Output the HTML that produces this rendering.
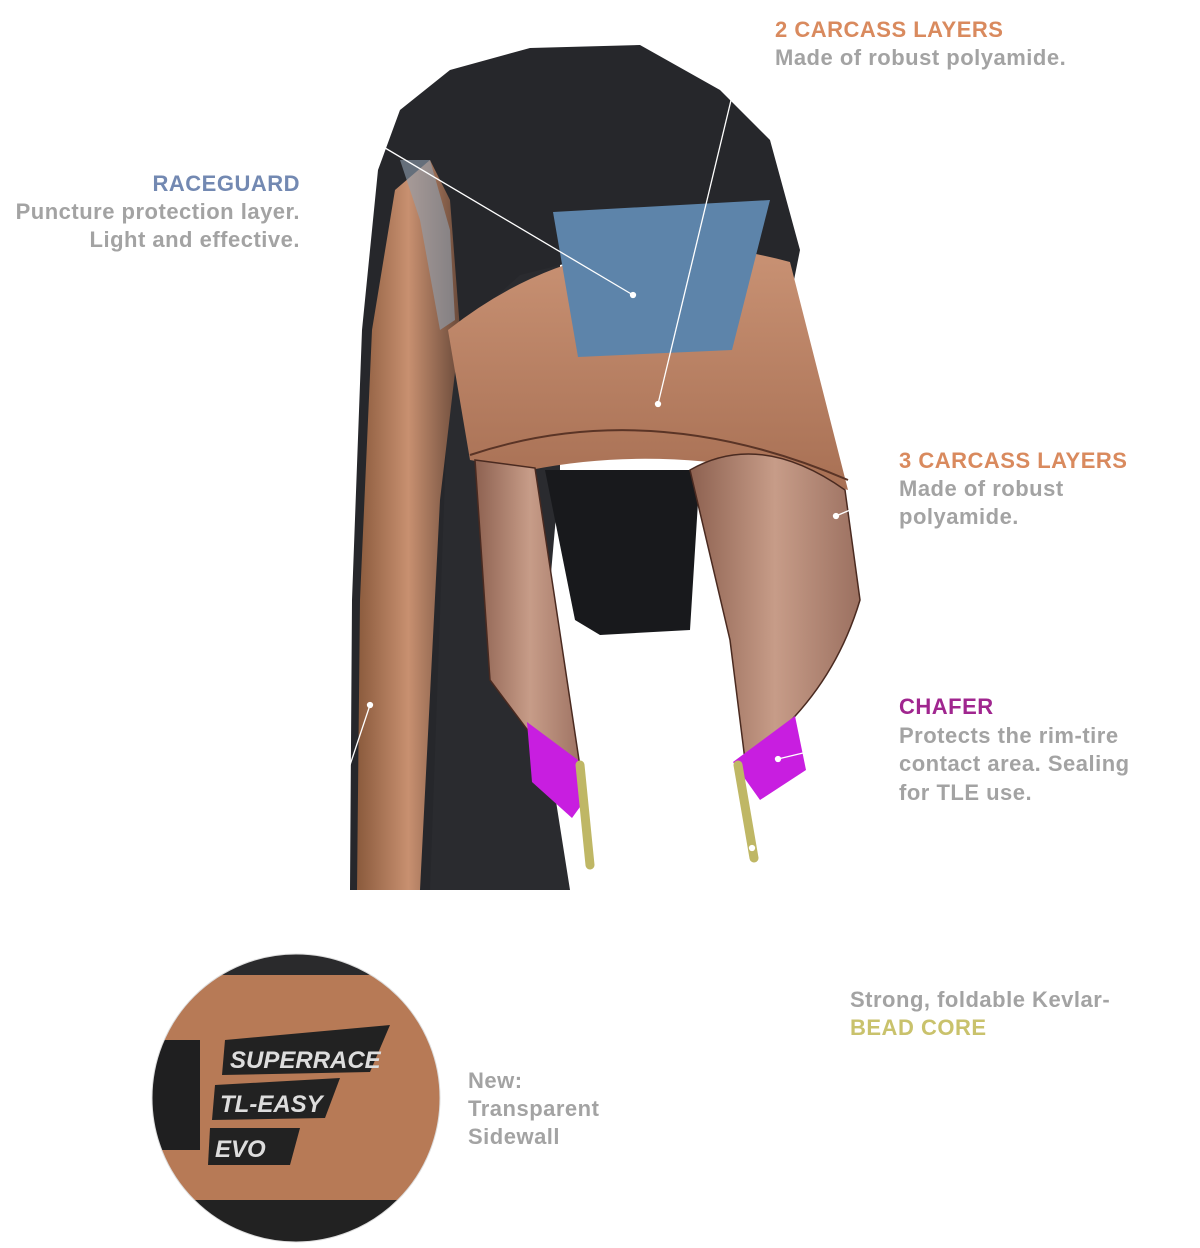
<!DOCTYPE html>
<html><head><meta charset="utf-8"><style>
body{margin:0;background:#fff;width:1200px;height:1248px;overflow:hidden;position:relative;font-family:"Liberation Sans",Arial,sans-serif;font-weight:bold}
.t{position:absolute;font-size:22px;letter-spacing:0.5px;line-height:28px;color:#a3a3a3;white-space:nowrap}
.o{color:#d98a5e}.b{color:#7389b2}.p{color:#a0268f}.y{color:#c9c26c}
svg{position:absolute;left:0;top:0}
</style></head><body>
<svg width="1200" height="1248" viewBox="0 0 1200 1248">
<defs>
<linearGradient id="sw" x1="0" x2="1"><stop offset="0" stop-color="#8a5a3c"/><stop offset="0.5" stop-color="#c89070"/><stop offset="1" stop-color="#6a4a3a"/></linearGradient>
<linearGradient id="cp" x1="0" x2="0" y1="0" y2="1"><stop offset="0" stop-color="#c99274"/><stop offset="1" stop-color="#a87054"/></linearGradient>
<linearGradient id="lg" x1="0" x2="1"><stop offset="0" stop-color="#8d6150"/><stop offset="0.5" stop-color="#c79c88"/><stop offset="1" stop-color="#9b7060"/></linearGradient>
</defs>
<!-- backing -->
<path d="M420,160 L560,220 L560,470 L540,700 L570,890 L420,890 Z" fill="#2a2b2f"/>
<!-- outer tread -->
<path d="M350,890 L352,600 L362,330 L378,170 L400,110 L450,70 L530,48 L640,45 L720,90 L770,140 L800,250 L790,300 L700,270 L600,255 L520,275 L470,320 L450,340 L430,890 Z" fill="#26272b"/>
<!-- left sidewall -->
<path d="M357,890 L360,600 L372,330 L395,190 L430,160 L450,200 L460,330 L440,500 L420,890 Z" fill="url(#sw)"/>
<path d="M400,160 L430,160 L450,230 L455,320 L440,330 L420,220 Z" fill="#8fa0b0" opacity="0.6"/>
<!-- inner dark -->
<path d="M545,470 L700,470 L690,630 L600,635 L575,620 Z" fill="#18191c"/>
<!-- carcass band -->
<path d="M448,330 Q600,210 790,262 L848,490 Q680,440 530,470 L470,460 Z" fill="url(#cp)"/>
<path d="M470,455 Q650,395 848,480" stroke="#5a3426" stroke-width="2" fill="none"/>
<!-- left leg -->
<path d="M475,460 L535,468 L555,600 L585,800 L550,760 L490,680 Z" fill="url(#lg)" stroke="#4a2a20" stroke-width="1.5"/>
<!-- right leg -->
<path d="M690,470 Q760,430 845,490 L860,600 Q830,700 745,760 L730,640 Z" fill="url(#lg)" stroke="#4a2a20" stroke-width="1.5"/>
<!-- raceguard -->
<path d="M553,212 L770,200 L732,350 L578,357 Z" fill="#5d84aa"/>
<!-- chafers -->
<path d="M527,722 L578,760 L585,800 L572,818 L532,782 Z" fill="#c81ee0"/>
<path d="M733,762 L795,716 L806,770 L760,800 Z" fill="#c81ee0"/>
<!-- beads -->
<line x1="580" y1="765" x2="590" y2="865" stroke="#bfb765" stroke-width="9" stroke-linecap="round"/>
<line x1="738" y1="765" x2="754" y2="858" stroke="#bfb765" stroke-width="9" stroke-linecap="round"/>
<!-- leaders -->
<g stroke="#fff" stroke-width="1.3" fill="#fff">
<line x1="375" y1="142" x2="633" y2="295"/><circle cx="633" cy="295" r="2.5"/>
<line x1="733" y1="92" x2="658" y2="404"/><circle cx="658" cy="404" r="2.5"/>
<line x1="850" y1="510" x2="836" y2="516"/><circle cx="836" cy="516" r="2.5"/>
<line x1="803" y1="753" x2="778" y2="759"/><circle cx="778" cy="759" r="2.5"/>
<line x1="350" y1="765" x2="370" y2="705"/><circle cx="370" cy="705" r="2.5"/>
<circle cx="752" cy="848" r="2.5"/>
</g>
<!-- circle inset -->
<clipPath id="cc"><circle cx="296" cy="1098" r="144"/></clipPath>
<g clip-path="url(#cc)">
<rect x="150" y="950" width="300" height="300" fill="#b77a56"/>
<rect x="150" y="950" width="300" height="25" fill="#2a2a2c"/>
<rect x="150" y="1200" width="300" height="50" fill="#222"/>
<rect x="150" y="1040" width="50" height="110" fill="#1f1f20"/>
<polygon points="225,1040 390,1025 370,1072 222,1075" fill="#222"/>
<polygon points="215,1085 340,1078 325,1118 212,1120" fill="#222"/>
<polygon points="210,1128 300,1128 290,1165 208,1165" fill="#222"/>
<text x="230" y="1068" font-size="24" font-style="italic" fill="#ddd" font-weight="bold">SUPERRACE</text>
<text x="220" y="1112" font-size="24" font-style="italic" fill="#ddd" font-weight="bold">TL-EASY</text>
<text x="215" y="1157" font-size="24" font-style="italic" fill="#ddd" font-weight="bold">EVO</text>
</g>
<circle cx="296" cy="1098" r="144" fill="none" stroke="#ddd" stroke-width="1"/>
</svg>
<div class="t" style="left:775px;top:16px"><span class="o">2 CARCASS LAYERS</span><br>Made of robust polyamide.</div>
<div class="t" style="right:900px;top:170px;text-align:right"><span class="b">RACEGUARD</span><br>Puncture protection layer.<br>Light and effective.</div>
<div class="t" style="left:899px;top:447px"><span class="o">3 CARCASS LAYERS</span><br>Made of robust<br>polyamide.</div>
<div class="t" style="left:899px;top:693px;line-height:28.5px"><span class="p">CHAFER</span><br>Protects the rim-tire<br>contact area. Sealing<br>for TLE use.</div>
<div class="t" style="left:850px;top:986px">Strong, foldable Kevlar-<br><span class="y">BEAD CORE</span></div>
<div class="t" style="left:468px;top:1067px">New:<br>Transparent<br>Sidewall</div>
</body></html>
